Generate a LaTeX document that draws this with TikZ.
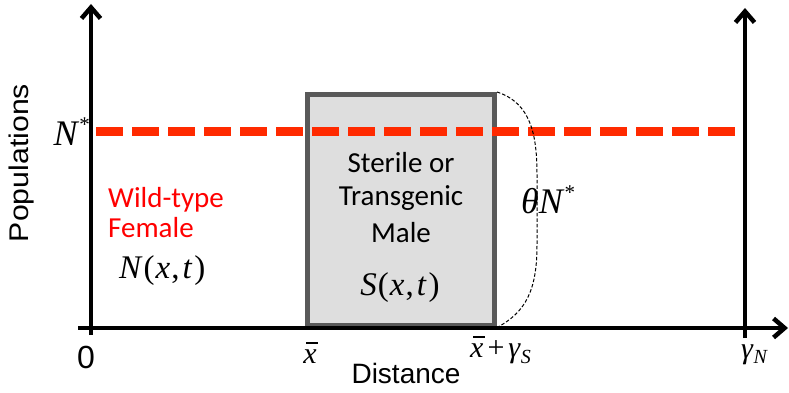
\documentclass[tikz,border=0pt]{standalone}
\usepackage{fontspec}
\usepackage{graphicx}
\usetikzlibrary{arrows.meta}
\newfontfamily\tmsf{Liberation Serif}
\newfontfamily\arif{Liberation Sans}
\newfontfamily\calf{Carlito}
\definecolor{boxgray}{HTML}{595959}
\definecolor{boxfill}{HTML}{DEDEDE}
\definecolor{dashred}{HTML}{FF2A00}
\definecolor{wildred}{HTML}{FF0000}
\newcommand\supstar{\raisebox{14pt}{\fontsize{21}{21}\selectfont *}}
\newcommand\xbarsym{\leavevmode\rlap{\kern0.1em\rule[0.64em]{0.38em}{0.05em}}\textit{x}}
\newcommand\subsym[2]{\raisebox{-#1}{\fontsize{20}{20}\selectfont\itshape #2}}
\begin{document}
\begin{tikzpicture}[x=1pt,y=-1pt,
  mt/.style={font={\tmsf\fontsize{#1}{#1}\selectfont},inner sep=0pt},
  sans/.style={font={\arif\fontsize{#1}{#1}\selectfont},inner sep=0pt},
  cal/.style={font={\calf\fontsize{#1}{#1}\selectfont},inner sep=0pt},
  axisln/.style={line width=4.5pt,-{Straight Barb[length=11pt,width=19pt]}},
  braceln/.style={line width=1pt,dash pattern=on 3.5pt off 2pt},
  redln/.style={draw=dashred,line width=9pt,dash pattern=on 27pt off 9pt}]
\useasboundingbox (0,0) rectangle (789,393);
% box
\node[draw=boxgray,line width=5pt,fill=boxfill,minimum width=187pt,minimum height=230.5pt,inner sep=0pt] (box) at (401,209.75) {};
% axes
\coordinate (ob) at (91,335);
\coordinate (ytop) at (91,4);
\coordinate (xl) at (78,328);
\coordinate (xr) at (788,328);
\coordinate (rb) at (745,338);
\coordinate (rt) at (745,8);
\draw[axisln] (ob) -- (ytop);
\draw[axisln] (xl) -- (xr);
\draw[axisln] (rb) -- (rt);
% red dashed level
\coordinate (d1) at (96,131.5);
\coordinate (d2) at (738,131.5);
\draw[redln] (d1) -- (d2);
% brace
\draw[braceln] (box.north east) .. controls (531,103) and (537,135) .. (537,175) -- (537,245) .. controls (537,290) and (526,312) .. (box.south east);
% texts
\node[sans=27,rotate=90] (pop) at (22,163) {\scalebox{1.12}[1]{Populations}};
\node[cal=29,text=wildred,anchor=base west] (wt) at (108,207) {Wild-type};
\node[cal=29,text=wildred,anchor=base west] (fem) at (108,237) {Female};
\node[mt=33,anchor=base west] (nxt) at (119,278) {\textit{N}\kern1pt(\kern1pt\textit{x}\kern1pt,\kern3pt\textit{t}\kern2pt)};
\node[cal=29,anchor=base] (s1) at (401,172) {Sterile or};
\node[cal=29,anchor=base] (s2) at (401,205) {Transgenic};
\node[cal=29,anchor=base] (s3) at (401,242) {Male};
\node[mt=33,anchor=base] (sxt) at (400,295) {\textit{S}\kern1pt(\kern1pt\textit{x}\kern1pt,\kern3pt\textit{t}\kern2pt)};
\node[mt=36,anchor=base east] (nst) at (90,146) {\textit{N}\supstar};
\node[mt=36,anchor=base west] (thn) at (521,213) {\textit{θN}\supstar};
\node[sans=32,anchor=base] (zero) at (86,368) {0};
\node[mt=30,anchor=base] (xb) at (310,363) {\xbarsym};
\node[mt=30,anchor=base west] (xg) at (470,357) {\xbarsym\kern4pt+\kern4pt\textit{γ}\subsym{6pt}{S}};
\node[mt=30,anchor=base west] (gn) at (741,358) {\textit{γ}\subsym{5pt}{N}};
\node[sans=28,anchor=base] (dist) at (406,383) {Distance};
\end{tikzpicture}
\end{document}
